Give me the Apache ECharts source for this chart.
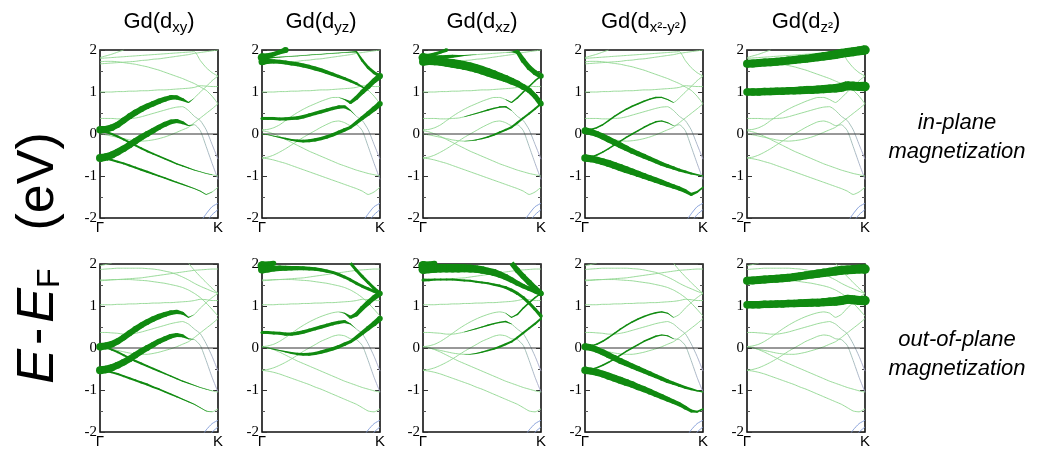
<!DOCTYPE html>
<html><head><meta charset="utf-8">
<script src="https://cdn.jsdelivr.net/npm/echarts@6/dist/echarts.min.js"></script>
<style>html,body{margin:0;padding:0;background:#fff}#c{width:1042px;height:453px}</style>
</head><body><div id="c"></div>
<script>
// ---------- data ----------
const K_POINTS = [0,0.05,0.1,0.15,0.2,0.25,0.3,0.35,0.4,0.45,0.5,0.55,0.6,0.65,0.7,0.75,0.8,0.85,0.9,0.95,1];
const K_LABELS = ['Γ','K'];
const Y_TICKS = [-2,-1,0,1,2];
const ORBITALS = ['xy','yz','xz','x²-y²','z²'];
const ROW_LABELS = [['in-plane','magnetization'],['out-of-plane','magnetization']];
const N = null;

// in-plane magnetization bands (eV) at K_POINTS
const inB1  = [1.82,1.86,1.9,1.95,2.0,N,N,N,N,N,N,N,N,N,N,N,N,N,N,N,N];
const inB2  = [1.80,1.81,1.82,1.83,1.84,1.85,1.86,1.87,1.88,1.89,1.9,1.91,1.92,1.93,1.94,1.95,1.96,1.75,1.58,1.46,1.38];
const inB3a = [1.67,1.68,1.69,1.7,1.71,1.72,1.73,1.75,1.76,1.78,1.79,1.81,1.83,1.85,1.87,1.89,1.92,1.94,1.96,1.98,2.0];
const inB3b = [1.72,1.73,1.73,1.72,1.7,1.68,1.66,1.63,1.6,1.56,1.52,1.47,1.42,1.37,1.32,1.26,1.2,1.12,1.04,0.9,0.72];
const inB4  = [1.0,1.0,1.0,1.01,1.01,1.02,1.02,1.03,1.03,1.04,1.05,1.05,1.06,1.07,1.08,1.09,1.11,1.15,1.14,1.13,1.13];
const inB5  = [0.1,0.11,0.15,0.22,0.32,0.42,0.51,0.59,0.66,0.72,0.78,0.83,0.87,0.87,0.82,0.75,0.86,1.0,1.13,1.27,1.38];
const inB6  = [0.37,0.37,0.37,0.36,0.36,0.37,0.38,0.41,0.45,0.49,0.53,0.57,0.61,0.64,0.65,0.56,0.42,0.32,0.1,-0.25,-0.6];
const inB7  = [-0.57,-0.55,-0.5,-0.43,-0.35,-0.26,-0.17,-0.08,0.0,0.08,0.16,0.23,0.29,0.31,0.27,0.2,0.22,0.08,-0.3,-0.7,-1.08];
const inB8  = [0.0,-0.02,-0.05,-0.08,-0.11,-0.14,-0.16,-0.17,-0.16,-0.14,-0.11,-0.07,-0.02,0.04,0.1,0.16,0.27,0.38,0.49,0.6,0.72];
const inB9  = [0.08,0.05,0.0,-0.06,-0.13,-0.2,-0.27,-0.34,-0.41,-0.47,-0.53,-0.59,-0.65,-0.71,-0.76,-0.81,-0.86,-0.9,-0.94,-0.97,-1.0];
const inB10 = [-0.57,-0.59,-0.62,-0.66,-0.7,-0.75,-0.8,-0.85,-0.9,-0.95,-1.0,-1.05,-1.1,-1.15,-1.2,-1.25,-1.3,-1.36,-1.44,-1.38,-1.27];
const inB11 = [N,N,N,N,N,N,N,N,N,N,N,N,N,N,N,N,N,-2.1,-1.9,-1.73,-1.65];
const inB12 = [N,N,N,N,N,N,N,N,N,N,N,N,N,N,N,N,N,N,-2.1,-1.92,-1.8];

// out-of-plane magnetization bands (eV)
const outB1  = [1.96,1.99,2.02,N,N,N,N,N,N,N,N,N,N,N,N,N,N,N,N,N,N];
const outB2  = [1.87,1.88,1.89,1.9,1.9,1.9,1.9,1.9,1.89,1.88,1.86,1.83,1.8,1.75,1.69,1.62,1.54,1.47,1.41,1.35,1.3];
const outB2b = [N,N,N,N,N,N,N,N,N,N,N,N,N,N,N,2.02,1.85,1.7,1.56,1.42,1.3];
const outB3a = [1.6,1.61,1.62,1.63,1.64,1.65,1.66,1.67,1.69,1.71,1.73,1.75,1.77,1.79,1.81,1.83,1.85,1.86,1.87,1.88,1.88];
const outB3b = [1.62,1.62,1.63,1.63,1.63,1.63,1.62,1.61,1.6,1.58,1.56,1.54,1.51,1.48,1.44,1.38,1.3,1.2,1.07,0.92,0.76];
const outB4  = [1.03,1.03,1.03,1.04,1.04,1.05,1.05,1.06,1.06,1.07,1.07,1.08,1.08,1.09,1.1,1.11,1.13,1.16,1.15,1.13,1.13];
const outB5  = [0.03,0.05,0.09,0.16,0.25,0.35,0.45,0.54,0.62,0.69,0.75,0.8,0.84,0.86,0.83,0.73,0.8,0.95,1.08,1.2,1.3];
const outB6  = [0.37,0.37,0.36,0.35,0.33,0.33,0.35,0.38,0.42,0.46,0.5,0.54,0.58,0.61,0.63,0.57,0.45,0.34,0.1,-0.2,-0.55];
const outB7  = [-0.53,-0.51,-0.47,-0.41,-0.34,-0.26,-0.17,-0.08,0.0,0.08,0.16,0.22,0.28,0.31,0.29,0.22,0.2,0.06,-0.3,-0.7,-1.05];
const outB8  = [0.03,0.0,-0.03,-0.06,-0.09,-0.12,-0.14,-0.15,-0.15,-0.13,-0.1,-0.06,-0.02,0.03,0.09,0.15,0.25,0.36,0.47,0.58,0.7];
const outB9  = [0.03,0.01,-0.04,-0.1,-0.17,-0.24,-0.31,-0.37,-0.43,-0.49,-0.55,-0.61,-0.67,-0.73,-0.79,-0.84,-0.89,-0.94,-0.98,-1.02,-1.05];
const outB10 = [-0.53,-0.55,-0.58,-0.62,-0.67,-0.72,-0.77,-0.82,-0.87,-0.93,-0.98,-1.04,-1.1,-1.16,-1.22,-1.28,-1.34,-1.42,-1.5,-1.52,-1.45];
const outB11 = [N,N,N,N,N,N,N,N,N,N,N,N,N,N,N,N,N,-2.15,-1.95,-1.8,-1.72];
const outB12 = [N,N,N,N,N,N,N,N,N,N,N,N,N,N,N,N,N,N,-2.15,-2.0,-1.88];

// orbital weights (fat-band character) per panel
const W_IN_XY = [
  ['B5',[0.75,0.7,0.65,0.62,0.6,0.6,0.6,0.58,0.56,0.55,0.53,0.5,0.47,0.42,0.3,0.1,0,0,0,0,0]],
  ['B7',[0.8,0.75,0.7,0.68,0.66,0.65,0.63,0.6,0.58,0.55,0.52,0.5,0.47,0.42,0.3,0.1,0,0,0,0,0]],
  ['B9',[0.25,0.22,0.2,0.2,0.2,0.2,0.2,0.2,0.2,0.18,0.17,0.16,0.15,0.14,0.12,0.1,0.08,0.06,0.05,0.03,0.02]],
  ['B10',[0.25,0.22,0.2,0.2,0.2,0.2,0.2,0.2,0.2,0.18,0.17,0.16,0.15,0.14,0.12,0.1,0.08,0.06,0.05,0.03,0.02]]];
const W_IN_YZ = [
  ['B1',[0.85,0.55,0.45,0.45,0.6]],
  ['B2',[0.5,0.2,0.1,0.08,0.06,0.05,0.05,0.05,0.05,0.05,0.05,0.05,0.05,0.05,0.05,0.08,0.15,0.25,0.28,0.3,0.35]],
  ['B3b',[0.7,0.5,0.42,0.4,0.4,0.4,0.4,0.4,0.4,0.4,0.38,0.37,0.35,0.33,0.3,0.28,0.25,0.15,0.05,0,0]],
  ['B6',[0.3,0.3,0.3,0.3,0.32,0.33,0.35,0.35,0.35,0.35,0.35,0.35,0.35,0.35,0.3,0.1,0,0,0,0,0]],
  ['B5',[0,0,0,0,0,0,0,0,0,0,0,0,0,0,0.1,0.3,0.4,0.45,0.5,0.5,0.6]],
  ['B8',[0.05,0.05,0.08,0.12,0.16,0.2,0.25,0.28,0.3,0.32,0.33,0.35,0.35,0.35,0.35,0.3,0.35,0.4,0.45,0.5,0.55]]];
const W_IN_XZ = [
  ['B1',[0.9,0.45,0.35,0.3,0.35]],
  ['B2',[0.5,0.5,0.45,0.4,0.35,0.3,0.2,0.1,0.05,0.03,0.02,0.02,0.02,0.02,0.02,0.05,0.4,0.5,0.5,0.5,0.55]],
  ['B3b',[0.8,0.75,0.78,0.82,0.85,0.88,0.88,0.88,0.87,0.86,0.85,0.83,0.8,0.76,0.72,0.67,0.62,0.57,0.53,0.5,0.55]],
  ['B6',[0,0,0,0,0,0,0,0.04,0.08,0.1,0.12,0.15,0.15,0.15,0.15,0.05,0,0,0,0,0]],
  ['B5',[0,0,0,0,0,0,0,0,0,0,0,0,0,0,0.05,0.1,0.15,0.15,0.15,0.15,0.15]],
  ['B8',[0,0,0,0,0,0,0,0.03,0.06,0.1,0.12,0.15,0.18,0.2,0.2,0.2,0.2,0.2,0.2,0.2,0.2]]];
const W_IN_X2Y2 = [
  ['B9',[0.7,0.65,0.6,0.6,0.6,0.6,0.58,0.55,0.52,0.5,0.48,0.45,0.42,0.4,0.37,0.33,0.3,0.27,0.22,0.15,0.1]],
  ['B10',[0.75,0.7,0.68,0.68,0.7,0.7,0.7,0.68,0.65,0.62,0.6,0.57,0.55,0.52,0.48,0.45,0.42,0.38,0.3,0.2,0.15]],
  ['B5',[0.12,0.12,0.15,0.15,0.15,0.15,0.15,0.15,0.15,0.15,0.15,0.15,0.15,0.12,0.1,0.05,0,0,0,0,0]],
  ['B7',[0.12,0.12,0.15,0.15,0.15,0.15,0.15,0.15,0.15,0.15,0.15,0.15,0.15,0.12,0.1,0.05,0,0,0,0,0]]];
const W_IN_Z2 = [
  ['B3a',[0.8,0.8,0.8,0.8,0.8,0.8,0.8,0.8,0.8,0.8,0.8,0.8,0.82,0.84,0.86,0.88,0.9,0.9,0.9,0.9,0.95]],
  ['B4',[0.75,0.75,0.75,0.75,0.75,0.75,0.75,0.75,0.75,0.78,0.8,0.8,0.8,0.82,0.84,0.86,0.9,0.9,0.9,0.9,0.95]]];

const W_OUT_XY = W_IN_XY.map(p => [p[0], p[1].slice()]);
const W_OUT_YZ = [
  ['B1',[0.9,0.6,0.5]],
  ['B2',[0.8,0.7,0.6,0.55,0.5,0.45,0.42,0.4,0.38,0.36,0.34,0.32,0.3,0.3,0.3,0.3,0.3,0.3,0.3,0.3,0.35]],
  ['B2b',[0,0,0,0,0,0,0,0,0,0,0,0,0,0,0,0.3,0.3,0.3,0.3,0.3,0.35]],
  ['B6',[0.3,0.3,0.3,0.3,0.32,0.33,0.35,0.35,0.35,0.35,0.35,0.35,0.35,0.35,0.3,0.1,0,0,0,0,0]],
  ['B5',[0,0,0,0,0,0,0,0,0,0,0,0,0,0,0.1,0.3,0.4,0.45,0.5,0.5,0.55]],
  ['B8',[0.05,0.05,0.08,0.12,0.16,0.2,0.25,0.28,0.3,0.32,0.33,0.35,0.35,0.35,0.35,0.3,0.35,0.4,0.45,0.5,0.55]]];
const W_OUT_XZ = [
  ['B1',[0.95,0.6,0.5]],
  ['B2',[0.9,0.85,0.85,0.85,0.85,0.85,0.85,0.8,0.8,0.75,0.75,0.7,0.7,0.65,0.6,0.55,0.5,0.45,0.45,0.45,0.5]],
  ['B2b',[0,0,0,0,0,0,0,0,0,0,0,0,0,0,0,0.5,0.55,0.55,0.55,0.55,0.55]],
  ['B3b',[0.3,0.25,0.2,0.2,0.2,0.2,0.2,0.2,0.2,0.2,0.2,0.2,0.22,0.25,0.28,0.3,0.3,0.3,0.3,0.3,0.35]],
  ['B6',[0,0,0,0,0,0,0,0.04,0.08,0.1,0.12,0.15,0.15,0.15,0.15,0.05,0,0,0,0,0]],
  ['B5',[0,0,0,0,0,0,0,0,0,0,0,0,0,0,0.05,0.1,0.15,0.15,0.15,0.15,0.15]],
  ['B8',[0,0,0,0,0,0,0,0.03,0.06,0.1,0.12,0.15,0.18,0.2,0.2,0.2,0.2,0.2,0.2,0.2,0.2]]];
const W_OUT_X2Y2 = W_IN_X2Y2.map(p => [p[0], p[1].slice()]);
const W_OUT_Z2 = [
  ['B3a',[0.8,0.8,0.8,0.8,0.8,0.8,0.8,0.8,0.8,0.8,0.8,0.8,0.82,0.84,0.86,0.88,0.9,0.9,0.9,0.9,0.95]],
  ['B4',[0.75,0.75,0.75,0.75,0.75,0.75,0.75,0.75,0.75,0.78,0.8,0.8,0.8,0.82,0.84,0.86,0.9,0.9,0.9,0.9,0.95]]];

// ---------- assembly ----------
const BANDS = [
  {B1:inB1,B2:inB2,B3a:inB3a,B3b:inB3b,B4:inB4,B5:inB5,B6:inB6,B7:inB7,B8:inB8,B9:inB9,B10:inB10,B11:inB11,B12:inB12},
  {B1:outB1,B2:outB2,B2b:outB2b,B3a:outB3a,B3b:outB3b,B4:outB4,B5:outB5,B6:outB6,B7:outB7,B8:outB8,B9:outB9,B10:outB10,B11:outB11,B12:outB12}
];
const WEIGHTS = [[W_IN_XY,W_IN_YZ,W_IN_XZ,W_IN_X2Y2,W_IN_Z2],[W_OUT_XY,W_OUT_YZ,W_OUT_XZ,W_OUT_X2Y2,W_OUT_Z2]];

const LEFTS = [100,262,423,585,747], PW = 118, TOPS = [50,264], PH = 168;
const FAT = '#108a10', THIN = '#8ed68e', BLUE = '#7d98d6';
const FAT_SCALE = 10;

const grids=[], xAxes=[], yAxes=[], series=[], titles=[];
const purple = new echarts.graphic.LinearGradient(0,0,1,0,[{offset:0,color:THIN},{offset:0.7,color:THIN},{offset:1,color:'#aaa2d4'}]);

for (let r=0;r<2;r++) for (let c=0;c<5;c++) {
  const gi = r*5+c;
  grids.push({left:LEFTS[c], top:TOPS[r], width:PW, height:PH, show:true, borderColor:'#111', borderWidth:1.6, backgroundColor:'transparent'});
  xAxes.push({gridIndex:gi, type:'value', min:0, max:1, interval:1,
    axisLine:{show:false}, axisTick:{show:false}, splitLine:{show:false},
    axisLabel:{margin:2, color:'#000', fontSize:15, fontFamily:'Liberation Sans',
      formatter:v => v===0?K_LABELS[0]:K_LABELS[1]}});
  const yBase = {gridIndex:gi, type:'value', min:-2, max:2, interval:1,
    axisLine:{show:false}, splitLine:{show:false},
    axisTick:{show:true, inside:true, length:5, lineStyle:{color:'#333'}},
    minorTick:{show:true, splitNumber:2, length:3, lineStyle:{color:'#555'}}};
  yAxes.push(Object.assign({}, yBase, {position:'left',
    axisLabel:{margin:3, color:'#000', fontSize:15, fontFamily:'Liberation Serif', formatter:v=>String(v)}}));
  yAxes.push(Object.assign({}, yBase, {position:'right', axisLabel:{show:false}}));

  const bands = BANDS[r];
  for (const name in bands) {
    const arr = bands[name];
    const data = [];
    K_POINTS.forEach((k,i)=>{ if (arr[i]!==null) data.push([k,arr[i]]); });
    let col = THIN;
    if (name==='B11'||name==='B12') col = BLUE;
    if (name==='B6'||name==='B7') col = purple;
    series.push({type:'line', xAxisIndex:gi, yAxisIndex:gi*2, data, symbol:'none', smooth:0.2,
      lineStyle:{color:col, width:0.9}, silent:true, z:2, animation:false});
  }
  series.push({type:'line', xAxisIndex:gi, yAxisIndex:gi*2, data:[[0,0],[1,0]], symbol:'none',
    lineStyle:{color:'#333', width:1}, silent:true, z:3, animation:false});

  // fat-band segments
  const segs = [];
  for (const [name, w] of WEIGHTS[r][c]) {
    const arr = bands[name];
    for (let i=0;i<K_POINTS.length-1;i++) {
      if (arr[i]===null || arr[i+1]===null) continue;
      const wa = (w[i]||0), wb = (w[i+1]||0);
      if ((wa+wb)/2 < 0.03) continue;
      segs.push([K_POINTS[i], arr[i], K_POINTS[i+1], arr[i+1], wa, wb]);
    }
  }
  series.push({type:'custom', xAxisIndex:gi, yAxisIndex:gi*2, data:segs, z:4, animation:false, silent:true,
    encode:{x:[0,2], y:[1,3]},
    renderItem:(params, api) => {
      const p1 = api.coord([api.value(0), api.value(1)]);
      const p2 = api.coord([api.value(2), api.value(3)]);
      const w1 = api.value(4)*FAT_SCALE, w2 = api.value(5)*FAT_SCALE;
      const dx = p2[0]-p1[0], dy = p2[1]-p1[1], L = Math.hypot(dx,dy)||1;
      const nx = -dy/L, ny = dx/L;
      const children = [
        {type:'polygon', shape:{points:[
          [p1[0]+nx*w1/2, p1[1]+ny*w1/2],[p2[0]+nx*w2/2, p2[1]+ny*w2/2],
          [p2[0]-nx*w2/2, p2[1]-ny*w2/2],[p1[0]-nx*w1/2, p1[1]-ny*w1/2]]},
          style:{fill:FAT}},
        {type:'circle', shape:{cx:p2[0], cy:p2[1], r:w2/2}, style:{fill:FAT}}
      ];
      if (api.value(0)===0) children.push({type:'circle', shape:{cx:p1[0], cy:p1[1], r:w1/2}, style:{fill:FAT}});
      return {type:'group', children};
    }});

  if (r===0) {
    titles.push({text:'{a|Gd(d}{s|'+ORBITALS[c]+'}{a|)}', left:LEFTS[c]+PW/2-5, top:2, textAlign:'center',
      textStyle:{fontWeight:'normal', rich:{
        a:{fontSize:22, fontWeight:'normal', fontFamily:'Liberation Sans', color:'#000', lineHeight:30},
        s:{fontSize:15, fontWeight:'normal', fontFamily:'Liberation Sans', color:'#000', padding:[12,0,0,0], lineHeight:30}}}});
  }
}

const graphic = [
  {type:'text', x:39, y:258, rotation:Math.PI/2, style:{
    text:'{e|E}{h|-}{e|E}{s|F}{g| }{n|(eV)}', align:'center', verticalAlign:'middle',
    rich:{e:{fontSize:52, fontStyle:'italic', fontFamily:'Liberation Sans', fill:'#000'},
          h:{fontSize:52, fontFamily:'Liberation Sans', fill:'#000', padding:[0,5,0,4]},
          n:{fontSize:52, fontFamily:'Liberation Sans', fill:'#000'},
          g:{fontSize:52, width:38},
          s:{fontSize:32, fontFamily:'Liberation Sans', fill:'#000', padding:[22,0,0,0]}}}}
];
ROW_LABELS.forEach((lines, r) => {
  const yc = r===0 ? 137 : 354;
  graphic.push({type:'text', x:957, y:yc-14, style:{text:lines[0], align:'center', verticalAlign:'middle',
    font:'italic 22px "Liberation Sans"', fill:'#000'}});
  graphic.push({type:'text', x:957, y:yc+15, style:{text:lines[1], align:'center', verticalAlign:'middle',
    font:'italic 22px "Liberation Sans"', fill:'#000'}});
});

const chart = echarts.init(document.getElementById('c'), null, {renderer:'canvas'});
chart.setOption({animation:false, backgroundColor:'#fff', title:titles, grid:grids, xAxis:xAxes, yAxis:yAxes, series, graphic});
</script></body></html>
